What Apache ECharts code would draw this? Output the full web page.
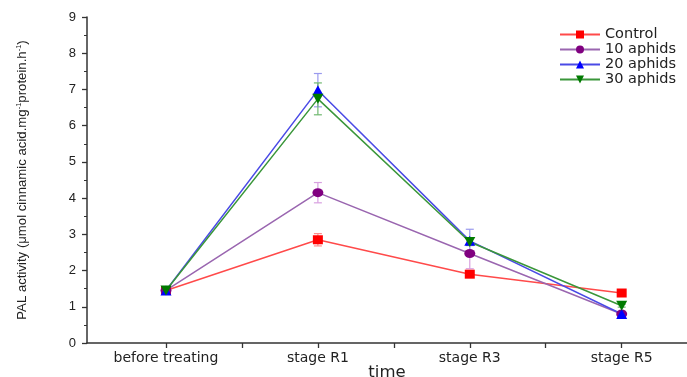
<!DOCTYPE html>
<html><head><meta charset="utf-8">
<script src="https://cdn.jsdelivr.net/npm/echarts@6/dist/echarts.min.js"></script>
<style>html,body{margin:0;padding:0;background:#fff}#c{width:687px;height:377px}</style>
</head><body><div id="c"></div>
<script>
const categories = ['before treating', 'stage R1', 'stage R3', 'stage R5'];
const seriesNames = ['Control', '10 aphids', '20 aphids', '30 aphids'];
const control = [1.45, 2.85, 1.90, 1.38];
const aphids10 = [1.45, 4.15, 2.47, 0.80];
const aphids20 = [1.45, 6.98, 2.82, 0.80];
const aphids30 = [1.45, 6.74, 2.79, 1.03];
const errControl = [0.04, 0.17, 0.05, 0.04];
const err10 = [0.04, 0.28, 0.42, 0.04];
const err20 = [0.04, 0.46, 0.32, 0.04];
const err30 = [0.04, 0.44, 0.10, 0.04];
const yTicks = [0, 1, 2, 3, 4, 5, 6, 7, 8, 9];

const values = [control, aphids10, aphids20, aphids30];
const errs = [errControl, err10, err20, err30];
const markerColors = ['#ff0000', '#800080', '#0000ff', '#007a00'];
const lineColors = ['#ff4a4a', '#9a66b0', '#4a4ae6', '#3a963a'];
const errColors = ['#ff8c8c', '#d8a0e0', '#9a9aee', '#6fb86f'];
const symbols = ['rect', 'circle', 'triangle', 'triangle'];
const symbolRot = [0, 0, 0, 180];
const symbolSizes = [[10, 9], [11, 9], [11, 10], [11, 10]];

const series = [];
values.forEach((vals, i) => {
  series.push({
    type: 'custom',
    name: 'err' + i,
    z: 2,
    data: vals.map((v, j) => [j, v - errs[i][j], v + errs[i][j]]),
    renderItem: function (params, api) {
      const x = api.value(0);
      const lo = api.coord([x, api.value(1)]);
      const hi = api.coord([x, api.value(2)]);
      const w = 4;
      const st = { stroke: errColors[i], lineWidth: 1.2 };
      return { type: 'group', children: [
        { type: 'line', shape: { x1: lo[0], y1: lo[1], x2: hi[0], y2: hi[1] }, style: st },
        { type: 'line', shape: { x1: lo[0] - w, y1: lo[1], x2: lo[0] + w, y2: lo[1] }, style: st },
        { type: 'line', shape: { x1: hi[0] - w, y1: hi[1], x2: hi[0] + w, y2: hi[1] }, style: st }
      ]};
    },
    silent: true
  });
});
values.forEach((vals, i) => {
  series.push({
    type: 'line',
    name: seriesNames[i],
    z: 3,
    data: vals.map((v, j) => [j, v]),
    symbol: symbols[i],
    symbolRotate: symbolRot[i],
    symbolSize: symbolSizes[i],
    showAllSymbol: true,
    lineStyle: { color: lineColors[i], width: 1.5 },
    itemStyle: { color: markerColors[i] }
  });
});

const chart = echarts.init(document.getElementById('c'));
chart.setOption({
  animation: false,
  backgroundColor: '#fff',
  grid: { left: 87, right: 0, top: 17, bottom: 34, containLabel: false, outerBoundsMode: 'none' },
  legend: {
    data: seriesNames,
    orient: 'vertical',
    left: 559, top: 27, padding: 0,
    itemWidth: 40, itemHeight: 10, itemGap: 0,
    textStyle: { fontFamily: 'DejaVu Sans', fontSize: 14.5, color: '#222' }
  },
  xAxis: {
    type: 'value',
    min: -0.52, max: 3.43,
    name: 'time', nameLocation: 'middle', nameGap: 21, nameMoveOverlap: false,
    nameTextStyle: { fontFamily: 'DejaVu Sans', fontSize: 16.5, color: '#222' },
    axisLine: { show: true, onZero: false, lineStyle: { color: '#333', width: 1.5 } },
    axisTick: { show: true, length: 5, inside: false, customValues: [0, 0.5, 1, 1.5, 2, 2.5, 3], lineStyle: { color: '#333', width: 1.3 } },
    axisLabel: { customValues: [0, 1, 2, 3], formatter: v => categories[Math.round(v)] || '', margin: 8, fontFamily: 'DejaVu Sans', fontSize: 14, color: '#222' },
    splitLine: { show: false }
  },
  yAxis: {
    type: 'value',
    min: 0, max: 9, interval: 1,
    name: 'PAL activity (μmol cinnamic acid.mg{sup|-1}protein.h{sup|-1})',
    nameLocation: 'middle', nameGap: 58, nameRotate: 90, nameMoveOverlap: false,
    nameTextStyle: {
      fontFamily: 'Liberation Sans, Arial', fontSize: 13.2, color: '#222',
      rich: {
        sup: { fontSize: 7.5, verticalAlign: 'top', padding: [0, 0, 6, 0], fontFamily: 'Liberation Sans, Arial', color: '#222' }
      }
    },
    axisLine: { show: true, onZero: false, lineStyle: { color: '#333', width: 1.5 } },
    axisTick: { show: true, length: 5, lineStyle: { color: '#333', width: 1.3 } },
    minorTick: { show: true, splitNumber: 2, length: 3, lineStyle: { color: '#333', width: 1 } },
    axisLabel: { margin: 11, fontFamily: 'Liberation Sans, Arial', fontSize: 13, color: '#222', formatter: v => yTicks.includes(v) ? String(v) : '' },
    splitLine: { show: false }
  },
  series: series
});
</script></body></html>
